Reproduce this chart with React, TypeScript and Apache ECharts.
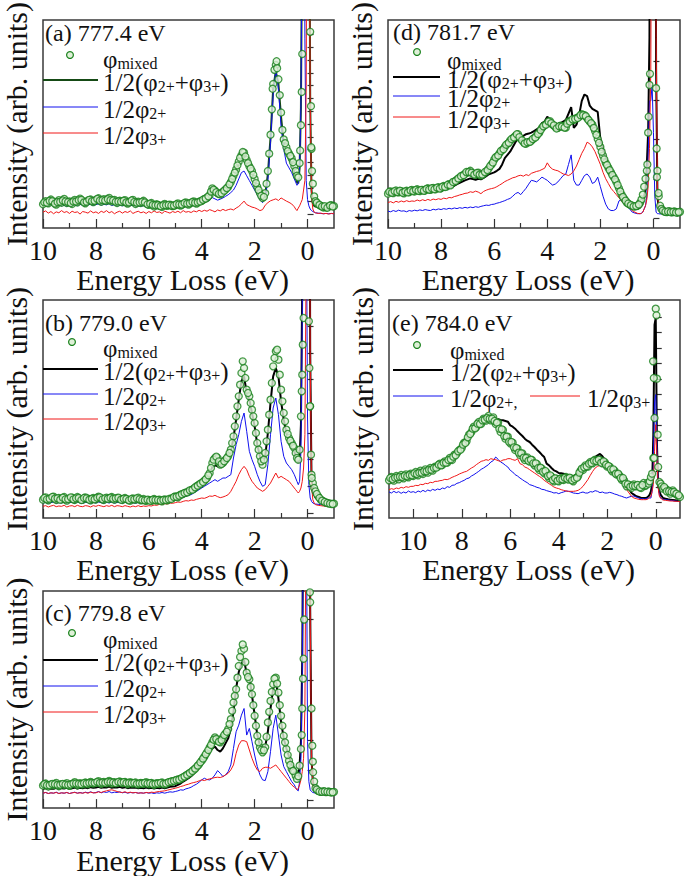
import React, { useEffect, useRef } from 'react';
import * as echarts from 'echarts';

const FONT = 'Liberation Serif';

// Energy-loss sampling (eV) shared by panels (a)-(d)
const ENERGY = [
  10, 9.9, 9.8, 9.7, 9.6, 9.5, 9.4, 9.3, 9.2, 9.1,
  9, 8.9, 8.8, 8.7, 8.6, 8.5, 8.4, 8.3, 8.2, 8.1,
  8, 7.9, 7.8, 7.7, 7.6, 7.5, 7.4, 7.3, 7.2, 7.1,
  7, 6.9, 6.8, 6.7, 6.6, 6.5, 6.4, 6.3, 6.2, 6.1,
  6, 5.9, 5.8, 5.7, 5.6, 5.5, 5.4, 5.3, 5.2, 5.1,
  5, 4.9, 4.8, 4.7, 4.6, 4.5, 4.4, 4.3, 4.2, 4.1,
  4, 3.9, 3.8, 3.7, 3.6, 3.5, 3.4, 3.3, 3.2, 3.1,
  3, 2.9, 2.8, 2.7, 2.6, 2.5, 2.4, 2.3, 2.2, 2.1,
  2, 1.9, 1.8, 1.7, 1.6, 1.5, 1.4, 1.3, 1.2, 1.1,
  1, 0.9, 0.8, 0.7, 0.6, 0.5,
  0.45, 0.4, 0.35, 0.3, 0.25, 0.2, 0.15, 0.1, 0.05, 0, -0.05, -0.1, -0.15, -0.2, -0.25, -0.3,
  -0.4, -0.5, -0.6, -0.7, -0.8, -0.9, -1,
];
// in-between samples of the measured (circle) spectra
const ENERGY_MID = [
  9.95, 9.85, 9.75, 9.65, 9.55, 9.45, 9.35, 9.25, 9.15, 9.05,
  8.95, 8.85, 8.75, 8.65, 8.55, 8.45, 8.35, 8.25, 8.15, 8.05,
  7.95, 7.85, 7.75, 7.65, 7.55, 7.45, 7.35, 7.25, 7.15, 7.05,
  6.95, 6.85, 6.75, 6.65, 6.55, 6.45, 6.35, 6.25, 6.15, 6.05,
  5.95, 5.85, 5.75, 5.65, 5.55, 5.45, 5.35, 5.25, 5.15, 5.05,
  4.95, 4.85, 4.75, 4.65, 4.55, 4.45, 4.35, 4.25, 4.15, 4.05,
  3.95, 3.85, 3.75, 3.65, 3.55, 3.45, 3.35, 3.25, 3.15, 3.05,
  2.95, 2.85, 2.75, 2.65, 2.55, 2.45, 2.35, 2.25, 2.15, 2.05,
  1.95, 1.85, 1.75, 1.65, 1.55, 1.45, 1.35, 1.25, 1.15, 1.05,
  0.95, 0.85, 0.75, 0.65, 0.55,
];
// extra high-energy samples for panel (e)
const ENERGY_HIGH = [11, 10.9, 10.8, 10.7, 10.6, 10.5, 10.4, 10.3, 10.2, 10.1];
const ENERGY_HIGH_MID = [10.95, 10.85, 10.75, 10.65, 10.55, 10.45, 10.35, 10.25, 10.15, 10.05];
const ENERGY_E = [...ENERGY_HIGH, ...ENERGY];
const ENERGY_E_MID = [...ENERGY_HIGH_MID, ...ENERGY_MID];

const X_MAJOR = [0, 2, 4, 6, 8, 10];
const X_MINOR = [1, 3, 5, 7, 9];

// ---------- (a) 777.4 eV ----------
const A_MIXED = [
  7.5, 8.5, 7.8, 9, 8.2, 7.4, 8.8, 8, 9.2, 7.9,
  8.4, 7.6, 8.9, 8.1, 9.3, 8.5, 7.8, 8.7, 9, 8.2,
  8.8, 9.4, 8.3, 9.1, 8.6, 9.5, 8.4, 8.9, 7.9, 8.6,
  8.2, 8.8, 7.7, 8.4, 8.9, 7.6, 8.3, 7.9, 8.6, 7.8,
  7.3, 7.9, 6.8, 7.5, 7.1, 6.7, 7.6, 7, 7.4, 6.9,
  7.2, 7.8, 7.1, 7.6, 8.1, 7.4, 8, 8.4, 7.7, 8.3,
  8.6, 9.2, 9.6, 10.4, 12.5, 11.8, 11, 10.6, 11.4, 12.2,
  13, 14.5, 16.5, 18.5, 21, 23, 23.8, 21.5, 19.5, 18,
  15.5, 13, 11, 9.5, 11, 18, 29.5, 45.5, 51.5, 47,
  36.5, 28, 25.5, 23.5, 22, 19.5,
  18, 16.5, 16, 20.5, 32.5, 55, 120, 200, 250, 200, 120, 62, 25, 14, 10, 8.5,
  7.5, 7, 6.5, 6.5, 6.8, 7.2, 6.9,
];
const A_MIXED_MID = [
  8.1, 8, 8.6, 8.5, 7.7, 8.2, 8.3, 8.7, 8.4, 8.2,
  7.9, 8.4, 8.4, 8.8, 8.9, 8.1, 8.3, 8.9, 8.5, 8.6,
  9.2, 8.7, 8.8, 8.7, 9.1, 8.8, 8.7, 8.3, 8.4, 8.3,
  8.6, 8.1, 8.1, 8.7, 8.2, 8, 8.1, 8.3, 8.1, 7.5,
  7.7, 7.3, 7.2, 7.2, 6.9, 7.2, 7.2, 7.3, 7.1, 7.1,
  7.5, 7.4, 7.4, 7.9, 7.7, 7.8, 8.2, 8, 8.1, 8.4,
  8.9, 9.3, 10, 11.5, 12.1, 11.3, 10.8, 11, 11.8, 12.6,
  13.8, 15.5, 17.5, 19.8, 22.2, 24, 22.6, 20.5, 18.8, 16.8,
  14.2, 12, 10.2, 9.8, 14, 23.5, 37.5, 50, 50.5, 42,
  31, 26.8, 24.3, 22.8, 20.8,
];
const A_MIXED_EXTRA = [
  [1.32, 44], [1.17, 52.7], [0.28, 24.5], [0.22, 43], [-0.13, 38.5], [-0.14, 25.5], [-0.17, 18],
  [-0.35, 8], [-0.45, 7.3], [-0.55, 6.8], [-0.65, 6.9], [-0.75, 6.4], [-0.85, 7.1], [-0.95, 6.8],
];
const A_SUM = [
  7.8, 8.1, 7.6, 8.3, 7.9, 8, 8.4, 7.7, 8.2, 7.9,
  8.1, 8, 8.4, 7.9, 8.5, 8.2, 8, 8.3, 8.6, 8.1,
  8.4, 8.7, 8.2, 8.6, 8.3, 8.8, 8.2, 8.5, 8, 8.3,
  8.1, 8.4, 7.8, 8.2, 8.3, 7.7, 8, 7.8, 8.1, 7.6,
  7.4, 7.6, 7.1, 7.3, 7.2, 7, 7.4, 7.1, 7.3, 7.1,
  7.3, 7.5, 7.3, 7.6, 7.8, 7.6, 7.9, 8.2, 8, 8.3,
  8.5, 8.9, 9.3, 9.9, 11.5, 11.2, 10.6, 10.4, 11, 11.8,
  12.6, 14, 16, 18, 20.5, 22.5, 23.2, 21, 19, 17.5,
  15, 12.5, 10.5, 9.2, 10.5, 17, 28.5, 44, 49.5, 45.5,
  35, 27, 24, 22, 20.5, 17.5,
  16, 14.5, 14.2, 19, 38, 100, 200, 150, 70, 200, 150, 40, 12, 8, 7, 6.8,
  6.6, 6.4, 6.3, 6.4, 6.5, 6.3, 6.4,
];
const A_HALF2 = [
  7, 7.3, 6.8, 7.4, 7.1, 6.9, 7.5, 7, 7.2, 6.8,
  7.2, 6.9, 7.4, 7, 7.5, 7.2, 6.9, 7.3, 7.5, 7.1,
  7.4, 7.6, 7.2, 7.5, 7.3, 7.7, 7.1, 7.4, 6.9, 7.2,
  7, 7.3, 6.8, 7.1, 7.2, 6.7, 7, 6.8, 7.1, 6.6,
  6.5, 6.8, 6.3, 6.6, 6.4, 6.2, 6.6, 6.3, 6.5, 6.3,
  6.6, 6.9, 6.6, 7, 7.2, 7, 7.4, 7.7, 7.5, 8,
  8.3, 8.6, 8.4, 8.8, 9.6, 9.2, 8.8, 9.1, 9.5, 10,
  10.5, 11.2, 12, 13.5, 15.5, 17.5, 18, 16.5, 15, 13.5,
  12, 10.5, 9, 8, 9.5, 15, 27, 42, 50, 44,
  32, 25, 20.5, 19, 17.5, 15.5,
  14.5, 13.5, 14, 19, 38, 100, 200, 60, 15, 9, 7, 6, 5.5, 5.2, 5, 4.8,
  4.7, 4.6, 4.5, 4.6, 4.5, 4.6, 4.5,
];
const A_HALF3 = [
  5, 5.4, 4.7, 5.2, 4.5, 5.1, 4.8, 5.5, 4.9, 5.2,
  4.6, 5.3, 4.9, 5.1, 4.4, 5.2, 5, 4.7, 5.4, 4.8,
  5.1, 4.6, 5.3, 4.9, 5.5, 4.8, 5.2, 4.5, 5, 5.3,
  4.7, 5.2, 4.9, 5.4, 4.6, 5, 5.3, 4.8, 5.1, 4.6,
  5.2, 4.8, 5.4, 4.9, 5.1, 4.6, 5.3, 5, 4.7, 5.2,
  4.9, 5.3, 4.8, 5.5, 5, 5.2, 4.9, 5.4, 5.1, 5.6,
  5.2, 5.6, 5.3, 5.8, 5.5, 5.1, 5.7, 5.4, 5.9, 5.5,
  5.8, 6, 5.7, 6.3, 6.8, 7.6, 8.5, 7.4, 7, 6.6,
  6.4, 6, 5.5, 5.8, 7.2, 8, 8.6, 8.9, 9.2, 8.7,
  9.5, 9, 8.5, 8.1, 7.6, 6.7,
  6, 5.5, 6.3, 7, 8, 9, 12, 15, 45, 200, 150, 40, 10, 6, 5, 4.8,
  4.6, 4.7, 4.5, 4.6, 4.4, 4.6, 4.5,
];
const A_YTICKS = [4.5, 8.55, 12.6, 16.65, 20.7, 24.75, 28.8, 32.85, 36.9, 40.95, 45, 49.05, 53.1, 57.15, 61.2];

// ---------- (b) 779.0 eV ----------
const B_MIXED = [
  5.5, 6.2, 5.3, 5.9, 6.4, 5.4, 6, 5.6, 6.3, 5.2,
  5.8, 6.1, 5.4, 6.3, 5.7, 5.5, 6.2, 5.8, 5.3, 6,
  5.6, 6.4, 5.9, 5.4, 6.1, 5.7, 6.3, 5.5, 6, 5.8,
  5.4, 6, 5.6, 5.2, 5.9, 5.5, 6.1, 5.3, 5.7, 5.1,
  5.4, 5.1, 5.7, 5.2, 5.5, 5, 5.6, 5.3, 5.8, 6,
  6.5, 6.2, 7, 7.3, 7.6, 8, 8.4, 8.8, 9.5, 10,
  10.5, 11.2, 12, 13.5, 16.5, 18, 18, 16, 16.5, 17.5,
  18.5, 20.5, 24.5, 30.5, 36.5, 43.5, 45, 38.5, 36.5, 32.5,
  28.5, 22.5, 18.5, 16, 19.5, 26.5, 35.5, 45.5, 50, 47.5,
  38.5, 31.5, 26.5, 24, 22.5, 21,
  19.5, 18, 17.5, 20.5, 30.5, 43, 60, 150, 200, 150, 59, 33.5, 13, 10.5, 9, 8,
  6.5, 5.5, 5, 4.6, 4.4, 4.2, 4.3,
];
const B_MIXED_MID = [
  6, 5.6, 5.8, 6.3, 5.8, 5.9, 5.5, 6.1, 5.6, 5.7,
  6.2, 5.6, 5.9, 6, 5.4, 6, 5.9, 5.5, 5.8, 5.6,
  6.1, 6.2, 5.6, 5.9, 5.8, 6.1, 5.8, 5.9, 6.1, 5.5,
  5.8, 5.7, 5.3, 5.7, 5.6, 5.9, 5.6, 5.4, 5.3, 5.5,
  5.2, 5.5, 5.4, 5.4, 5.2, 5.4, 5.4, 5.6, 5.7, 6.3,
  6.4, 6.7, 7.1, 7.5, 7.7, 8.3, 8.5, 9.2, 9.7, 10.3,
  10.8, 11.6, 12.8, 15, 17.5, 18.4, 17, 16.2, 17, 18,
  19.5, 22.5, 27.5, 33.5, 40, 47, 42, 37.5, 34.5, 30.5,
  25.5, 20.5, 17, 17.5, 23, 31, 40.5, 48, 50.5, 43,
  35, 29, 25.2, 23.2, 21.7,
];
const B_MIXED_EXTRA = [
  [0.22, 38], [0.18, 52], [-0.07, 45], [-0.09, 33.5], [-0.13, 19], [-0.16, 12],
  [-0.35, 7.2], [-0.45, 6], [-0.55, 5.2], [-0.65, 4.8], [-0.75, 4.5], [-0.85, 4.3], [-0.95, 4.2],
];
const B_SUM = [
  5.2, 5.5, 5.1, 5.4, 5.6, 5.2, 5.5, 5.3, 5.6, 5.1,
  5.4, 5.5, 5.2, 5.6, 5.3, 5.2, 5.5, 5.4, 5.1, 5.5,
  5.3, 5.6, 5.4, 5.2, 5.5, 5.3, 5.6, 5.2, 5.5, 5.4,
  5.2, 5.5, 5.3, 5.1, 5.4, 5.2, 5.5, 5.1, 5.3, 5,
  5.2, 5, 5.4, 5.1, 5.3, 5, 5.4, 5.2, 5.5, 5.8,
  6.2, 6, 6.6, 7, 7.3, 7.7, 8.1, 8.6, 9.2, 9.8,
  10.4, 11, 12, 13.2, 15.3, 15.8, 15.5, 15.3, 16, 17,
  18, 20, 24, 29.5, 35.5, 41, 42.5, 37.5, 35.5, 31.5,
  27.5, 22, 18.5, 16, 18.5, 25.5, 34.5, 42.5, 45, 42.5,
  35, 29.5, 25.5, 23, 21.5, 20,
  18.5, 17.5, 16.5, 18, 28, 70, 160, 200, 130, 200, 200, 50, 12, 8, 7, 6.2,
  5.5, 5, 4.8, 4.6, 4.5, 4.4, 4.3,
];
const B_HALF2 = [
  4.5, 4.7, 4.3, 4.6, 4.8, 4.4, 4.6, 4.5, 4.8, 4.3,
  4.6, 4.7, 4.4, 4.8, 4.5, 4.4, 4.7, 4.6, 4.3, 4.7,
  4.5, 4.8, 4.6, 4.4, 4.7, 4.5, 4.8, 4.4, 4.7, 4.6,
  4.4, 4.7, 4.5, 4.3, 4.6, 4.4, 4.7, 4.3, 4.5, 4.3,
  4.5, 4.3, 4.7, 4.4, 4.6, 4.4, 4.8, 4.6, 5, 5.2,
  5.5, 5.4, 5.9, 6.2, 6.5, 6.8, 7, 7.5, 8, 8.5,
  9, 9.5, 10, 10.5, 11, 11.5, 11, 11.5, 12, 12,
  12.5, 13, 18, 22, 25, 29, 31.5, 26, 20, 17.5,
  15.5, 13, 11, 9.5, 10, 16, 25, 33, 36, 31,
  23, 18.5, 16.5, 15.5, 14.5, 13,
  12, 11, 10, 11, 20, 60, 150, 200, 100, 30, 10, 6, 5, 4.5, 4.3, 4.2,
  4.1, 4, 4.1, 3.9, 4, 3.9, 4,
];
const B_HALF3 = [
  3.5, 3.7, 3.3, 3.6, 3.8, 3.4, 3.6, 3.5, 3.8, 3.3,
  3.6, 3.7, 3.4, 3.8, 3.5, 3.4, 3.7, 3.6, 3.3, 3.7,
  3.5, 3.8, 3.6, 3.4, 3.7, 3.5, 3.8, 3.4, 3.7, 3.6,
  3.4, 3.7, 3.5, 3.3, 3.6, 3.4, 3.7, 3.4, 3.6, 3.5,
  3.7, 3.6, 3.9, 3.8, 4.1, 4, 4.3, 4.2, 4.5, 4.4,
  4.6, 4.8, 4.7, 5, 5.2, 5.1, 5.4, 5.3, 5.6, 5.8,
  6, 5.9, 6.2, 6.6, 6.5, 6.8, 6.4, 6.1, 6.3, 6.6,
  7, 8, 9.5, 11, 13, 14.5, 15.5, 14.5, 12.5, 11,
  10, 9, 8.5, 8, 8.5, 9.5, 10.5, 12, 13.5, 12,
  12.5, 12, 11.5, 11, 10, 9,
  8.5, 8, 7.5, 8, 9, 11, 15, 25, 80, 200, 200, 50, 10, 5.5, 4.5, 4,
  3.8, 3.7, 3.6, 3.5, 3.6, 3.5, 3.4,
];
const B_YTICKS = [1.5, 9.5, 17.5, 25.5, 33.5, 41.5, 49.5, 57.5];

// ---------- (c) 779.8 eV ----------
const C_MIXED = [
  6.8, 7.4, 6.5, 7.1, 6.9, 7.6, 6.6, 7.2, 7, 7.5,
  6.7, 7.3, 7.8, 6.9, 7.5, 7.1, 7.7, 7.2, 7.9, 7.4,
  7.6, 8.1, 7.3, 7.9, 7.5, 8.2, 7.4, 7.8, 7.6, 8,
  7.5, 7.9, 7.2, 7.8, 7.4, 7.7, 7.1, 7.6, 7.3, 7.8,
  7.2, 7.6, 7, 7.5, 7.3, 7.7, 7.1, 7.6, 7.9, 8.1,
  8.3, 8.6, 8.8, 9.3, 9.8, 10.3, 10.8, 11.5, 12.3, 13.2,
  14.3, 15.5, 16.8, 18.3, 19.8, 21.3, 20.3, 19.8, 21.3, 22.5,
  23.8, 26.8, 31.8, 35.8, 42.8, 47.3, 48, 40.8, 38.8, 34.3,
  27.8, 21.8, 18.3, 16.8, 18.3, 25.8, 32.3, 37.3, 39.3, 34.8,
  27.8, 21.8, 17.8, 14.3, 11.8, 10.8,
  9.8, 8.8, 9.6, 12.8, 17.8, 30, 45, 80, 120, 150, 100, 62, 30, 14, 8, 6,
  5.2, 4.9, 5.1, 4.8, 5, 4.7, 4.9,
];
const C_MIXED_MID = [
  7.2, 6.9, 6.9, 7.3, 7.2, 7, 7, 7.3, 7.1, 7,
  7.1, 7.4, 7.4, 7.3, 7.2, 7.5, 7.4, 7.6, 7.6, 7.6,
  7.9, 7.6, 7.7, 7.6, 7.9, 7.8, 7.7, 7.5, 7.9, 7.7,
  7.8, 7.5, 7.6, 7.5, 7.6, 7.3, 7.4, 7.4, 7.6, 7.4,
  7.5, 7.2, 7.3, 7.4, 7.6, 7.3, 7.4, 7.8, 8, 8.2,
  8.5, 8.6, 9.1, 9.5, 10, 10.6, 11.2, 11.9, 12.8, 13.8,
  14.9, 16.2, 17.5, 19, 20.6, 20.8, 20, 20.5, 22, 23,
  25.3, 29.3, 33.8, 39.3, 45.5, 49.3, 44, 39.5, 36.5, 31,
  24.8, 19.8, 17.5, 17.4, 21.5, 29, 35, 39, 37.5, 31,
  24.8, 19.8, 16, 13, 11.2,
];
const C_MIXED_EXTRA = [
  [0.22, 22], [0.17, 39], [0.13, 56.8], [-0.09, 65], [-0.18, 18.8], [-0.21, 10.8],
  [-0.35, 5.6], [-0.45, 5], [-0.55, 4.9], [-0.65, 5], [-0.75, 4.9], [-0.85, 4.8], [-0.95, 4.8],
];
const C_SUM = [
  5.8, 6, 5.7, 5.9, 5.8, 6.1, 5.7, 6, 5.9, 6.1,
  5.8, 6, 6.2, 5.9, 6.1, 6, 6.2, 6, 6.3, 6.1,
  6.2, 6.4, 6.1, 6.3, 6.2, 6.5, 6.1, 6.3, 6.2, 6.4,
  6.1, 6.3, 6, 6.2, 6.1, 6.2, 6, 6.1, 6, 6.2,
  6, 6.1, 5.9, 6.1, 6, 6.2, 6, 6.2, 6.4, 6.5,
  6.6, 7, 7.4, 8, 8.5, 9, 9.6, 10.4, 11.4, 12.4,
  13.5, 14.5, 15.5, 17, 18, 18.5, 17.5, 17, 18, 19.5,
  21, 24, 29, 36, 41, 43.5, 44.5, 40.5, 39.5, 34,
  28, 22, 19, 18, 18.5, 23, 30, 36, 38.5, 33,
  26, 21, 18, 15.5, 13, 11.5,
  10, 9, 9.5, 13, 20, 45, 110, 220, 200, 260, 200, 60, 15, 8, 6.5, 6,
  5.8, 5.6, 5.7, 5.5, 5.6, 5.4, 5.5,
];
const C_HALF2 = [
  4.5, 4.7, 4.4, 4.6, 4.5, 4.8, 4.4, 4.6, 4.5, 4.7,
  4.4, 4.6, 4.8, 4.5, 4.7, 4.5, 4.8, 4.6, 4.9, 4.6,
  4.7, 5, 4.6, 4.9, 4.7, 5, 4.6, 4.8, 4.7, 4.9,
  4.6, 4.8, 4.5, 4.7, 4.6, 4.7, 4.5, 4.6, 4.5, 4.7,
  4.5, 4.6, 4.4, 4.6, 4.5, 4.7, 4.5, 4.7, 4.9, 4.8,
  5, 5.2, 5.5, 5.4, 5.8, 6, 6.3, 6.8, 7.2, 7.8,
  8.5, 9, 8.6, 8.5, 9, 10, 11.3, 10.5, 9.5, 10,
  11, 13, 18, 23, 25, 28, 30, 22, 24, 20,
  16, 12.5, 10, 8.5, 8.3, 11, 17, 24, 28, 22,
  16, 12.5, 11, 9.5, 8, 7,
  6.2, 5.5, 5.2, 8, 15, 40, 100, 200, 100, 20, 8, 5.5, 5, 4.7, 4.6, 4.5,
  4.4, 4.5, 4.3, 4.4, 4.5, 4.3, 4.4,
];
const C_HALF3 = [
  4.5, 4.7, 4.4, 4.6, 4.5, 4.7, 4.4, 4.6, 4.5, 4.7,
  4.4, 4.6, 4.7, 4.5, 4.6, 4.5, 4.7, 4.5, 4.8, 4.6,
  4.6, 4.9, 4.7, 5, 5.2, 5.4, 5.5, 5.3, 5, 4.8,
  4.7, 4.9, 4.6, 4.8, 4.6, 4.7, 4.5, 4.6, 4.5, 4.7,
  4.6, 4.8, 4.7, 4.9, 5, 5.1, 5.2, 5.4, 5.6, 5.8,
  6, 6.2, 6.5, 6.7, 7, 7.2, 7.5, 7.7, 7.9, 8.2,
  8.5, 8.3, 8.6, 8.8, 9, 9.2, 9.3, 9.2, 9.5, 10,
  10.5, 11.5, 13, 16.5, 19, 20.3, 20.3, 20, 17.5, 15,
  13, 11.5, 11, 12, 12.3, 12.3, 12, 12.5, 13, 12,
  11, 10, 9, 8, 7, 6.3,
  6, 5.5, 6, 7, 8.5, 11, 15, 30, 100, 250, 200, 60, 15, 7, 5.5, 5,
  4.7, 4.6, 4.5, 4.6, 4.4, 4.5, 4.4,
];
const C_YTICKS = [2.3, 11.4, 20.5, 29.5, 38.6, 47.7, 56.8];

// ---------- (d) 781.7 eV ----------
const D_MIXED = [
  10.8, 11.5, 11, 11.8, 11.2, 11.6, 10.9, 11.7, 11.3, 12,
  11.5, 12.2, 11.6, 12, 11.8, 12.5, 12, 12.6, 12.2, 12.8,
  12.5, 13.2, 13, 13.8, 14, 14.6, 15.2, 15.8, 16.5, 17,
  17.5, 18, 17.2, 16.8, 17.4, 16.5, 17, 17.8, 18.8, 20,
  21.5, 22.5, 23.5, 24.5, 25.5, 26.5, 27.5, 28.2, 29, 29.5,
  28, 27, 26.5, 27, 27.5, 28.2, 29, 30, 31.5, 32.3,
  33, 33.6, 32.5, 31.8, 31.5, 32.2, 32, 31.6, 33.5, 33.8,
  34, 34.6, 35, 35.8, 35.5, 34.5, 33.5, 32.5, 30.5, 28,
  25.5, 22.8, 20.5, 19, 17.5, 16, 14.5, 12.5, 10.5, 9.2,
  8, 7.4, 7, 6.8, 7, 8,
  9, 10.5, 13, 15.5, 18, 30, 45, 80, 120, 120, 80, 44, 18, 10, 7, 6,
  5.2, 5, 5.3, 4.9, 5.2, 4.8, 5.1,
];
const D_MIXED_MID = [
  11.4, 11.1, 11.6, 11.3, 11.7, 11.1, 11.5, 11.2, 11.8, 11.6,
  12, 11.7, 12, 11.7, 12.3, 12.1, 12.5, 12.2, 12.7, 12.4,
  13, 12.9, 13.6, 13.4, 14.5, 14.8, 15.6, 16.3, 16.6, 17.6,
  17.6, 17.4, 16.8, 17.3, 16.8, 16.8, 17.6, 18.2, 19.5, 20.6,
  22.2, 22.8, 24.2, 24.8, 26.2, 26.8, 28, 28.5, 29.5, 28.6,
  27.6, 26.6, 27, 27.1, 28, 28.5, 29.6, 30.8, 32, 32.5,
  33.5, 33, 32.3, 31.3, 32, 31.9, 31.6, 32.8, 33.5, 34.2,
  34.3, 34.6, 35.5, 35.5, 35.2, 34, 33, 31.5, 29.3, 26.8,
  24, 21.6, 19.8, 18.2, 16.7, 15.3, 13.5, 11.5, 9.8, 8.6,
  7.7, 7.2, 6.8, 6.9, 7.4,
];
const D_MIXED_EXTRA = [
  [0.23, 20], [0.18, 35], [0.13, 48.5], [-0.12, 25], [-0.13, 16], [-0.19, 11],
  [-0.35, 5.5], [-0.45, 5.1], [-0.55, 5.2], [-0.65, 5], [-0.75, 5.1], [-0.85, 4.9], [-0.95, 5],
];
const D_SUM = [
  10.3, 10.6, 10.4, 10.8, 10.5, 10.9, 10.6, 11, 10.8, 11.2,
  11, 11.3, 11.1, 11.4, 11.2, 11.6, 11.4, 11.7, 11.5, 11.9,
  11.7, 12, 12.3, 12.6, 13, 13.3, 13.8, 14.2, 14.6, 15,
  15.3, 15.6, 15.4, 15.2, 15.5, 15.3, 15.8, 16.3, 16.9, 17.2,
  17.5, 18, 18.6, 20, 22, 23, 24, 25.5, 27, 28.5,
  28.5, 29, 29.5, 29.7, 30, 30.5, 31, 31.5, 33, 33.5,
  35, 34, 33.5, 33, 32.5, 33, 33.5, 34, 36, 38,
  31.5, 32.5, 35.5, 40, 42, 41.5, 38.5, 37.5, 37, 36.5,
  28, 25, 22, 20, 18, 16, 14.5, 12.5, 10.5, 9,
  8, 7, 6.5, 6.2, 6, 6.5,
  7.2, 8, 10, 12, 20, 30, 60, 200, 250, 250, 200, 50, 10, 6, 5.2, 5,
  4.8, 4.9, 4.7, 4.8, 4.6, 4.8, 4.7,
];
const D_HALF2 = [
  5.3, 5.1, 5.5, 5.2, 5.6, 5.3, 5.4, 5.1, 5.5, 5.3,
  5.6, 5.4, 5.7, 5.5, 5.8, 5.6, 5.5, 5.9, 5.7, 6,
  5.8, 6.1, 5.9, 6.2, 6, 6.3, 6.1, 6.4, 6.2, 6.5,
  6.3, 6.6, 6.4, 6.7, 6.5, 6.8, 7, 7.2, 7.1, 7.4,
  7.5, 7.8, 8, 8.3, 8.6, 9, 9.3, 10, 10.8, 11.2,
  10.5, 11.5, 12.5, 13.8, 15, 14.8, 14.5, 15.2, 16, 15.5,
  15, 14.2, 13.5, 13.8, 14.5, 15.5, 16.5, 17, 20, 23,
  15, 13.5, 13.5, 15, 16.5, 17, 16, 14, 14.5, 16,
  13, 10, 7.5, 6, 5.5, 5.5, 6, 8.5, 9, 8,
  7, 6, 5, 4.7, 4.5, 4.5,
  4.7, 5, 6, 7, 10, 22, 40, 40, 45, 30, 10, 5, 4.5, 4.5, 4.4, 4.5,
  4.4, 4.5, 4.3, 4.4, 4.2, 4.4, 4.3,
];
const D_HALF3 = [
  8, 8.3, 7.9, 8.4, 8.1, 8.5, 8.2, 8.6, 8.3, 8.5,
  8.4, 8.8, 8.5, 8.9, 8.6, 9, 8.7, 9.1, 8.9, 9.2,
  9, 9.4, 9.2, 9.6, 9.5, 9.9, 10.1, 10.4, 10.6, 10.9,
  11, 11.4, 11.2, 11.6, 11.3, 10.8, 11.5, 11.9, 12.2, 12.4,
  12.6, 13, 13.5, 14, 14.6, 15, 15.4, 15.8, 16, 16.4,
  16.6, 16.3, 16.8, 16.5, 17.2, 17.5, 17.8, 18, 18.4, 18.8,
  20.5, 19.2, 18.5, 18.2, 18, 17.5, 17, 16.8, 16.5, 17,
  18, 19.5, 21.5, 23.5, 25, 27, 26.5, 25.5, 24, 22,
  20, 17.5, 15.5, 14, 12.5, 11.5, 10.5, 9.5, 8.5, 7.5,
  6.8, 6.2, 5.5, 5, 4.6, 4.5,
  4.6, 5, 6, 7, 9, 13, 25, 50, 150, 250, 200, 60, 12, 6, 5, 4.8,
  4.7, 4.8, 4.6, 4.7, 4.5, 4.7, 4.6,
];
const D_YTICKS = [3, 15.4, 27.8, 40.2, 52.6];

// ---------- (e) 784.0 eV ----------
const E_MIXED = [
  11.3, 12.3, 11.2, 12.6, 11.6, 12.9, 11.9, 13.1, 12.2, 13.3,
  12.6, 13.8, 12.8, 14.2, 13.2, 14.6, 13.6, 15, 14.2, 15.4,
  15.4, 16.3, 15.9, 17, 16.6, 18, 17.4, 19, 19.4, 20.4,
  21, 22.6, 23, 25, 25.8, 27.4, 27.2, 28.8, 28.2, 29.8,
  29.2, 30.6, 29.3, 30.2, 28.2, 28.6, 25.8, 26.4, 23.8, 24.4,
  22.4, 22.6, 20.4, 20.8, 18.9, 19.4, 17.4, 18.2, 16.9, 17.4,
  15.8, 16.2, 14.4, 14.8, 13.4, 13.6, 12, 12.4, 11, 11.8,
  11, 12, 11.4, 12.3, 11.5, 11.9, 11, 12, 12.5, 14.2,
  14.4, 15.8, 15.4, 16.8, 16.4, 17.5, 17, 17.4, 16.4, 16.7,
  15.4, 15.4, 14, 14.2, 13, 12.8, 11.4, 11.2, 9.5, 9.9,
  9, 10.1, 9.5, 9.8, 9, 10.5,
  9.6, 9.8, 10.5, 10.3, 11, 12.3, 13.3, 18, 30, 62.8, 41.8, 15.3, 10.8, 10.3, 9.5, 8.8,
  8.8, 8.3, 7.3, 8.3, 7.3, 6.8, 6.3,
];
const E_MIXED_MID = [
  12, 11.6, 12.1, 12.2, 12.4, 12.3, 12.7, 12.5, 12.9, 12.8,
  13.4, 13.2, 13.6, 13.6, 14, 14, 14.5, 14.5, 15, 15.1,
  16, 15.8, 16.6, 16.6, 17.4, 17.6, 18.4, 18.8, 20, 20.5,
  22, 22.5, 24.2, 25.2, 26.8, 26.9, 28.3, 28.2, 29.3, 29.5,
  30, 29.8, 29.8, 29.1, 28.6, 26.8, 26.6, 24.6, 24.4, 22.9,
  22.8, 21.2, 21, 19.6, 19.4, 18.1, 18, 17.2, 17.5, 16.4,
  16.4, 15, 15.1, 13.9, 14.1, 12.6, 12.8, 11.4, 11.9, 11.2,
  11.7, 11.6, 12.1, 11.8, 12.1, 11.3, 11.7, 12.1, 13.6, 14.8,
  15.2, 15.5, 16.3, 16.5, 17.2, 17.1, 17.5, 16.6, 17, 16,
  15.6, 14.6, 14.6, 13.3, 13.3, 12, 12, 10.3, 10.1, 9.4,
  9.7, 9.6, 9.9, 9.2, 9.9,
];
const E_MIXED_EXTRA = [
  [0.11, 47], [0.08, 42], [0.07, 18], [-0.03, 60.8], [-0.08, 25],
  [-0.35, 9.3], [-0.45, 8], [-0.55, 8], [-0.65, 7.8], [-0.75, 7.8], [-0.85, 7.3], [-0.95, 6.8],
];
const E_SUM = [
  11, 11.3, 11.1, 11.5, 11.3, 11.7, 11.5, 11.9, 11.7, 12.1,
  12, 12.4, 12.3, 12.8, 12.7, 13.2, 13.2, 13.7, 13.8, 14.3,
  14.8, 15, 15.6, 15.8, 16.5, 17, 17.3, 18, 18.8, 19.5,
  20.5, 21.3, 22.5, 23.5, 25, 25.8, 26.8, 27.5, 28, 28.5,
  28.8, 29, 29.2, 29.5, 29.3, 29.6, 29.4, 29.3, 29.1, 28.9,
  27.8, 27.4, 26.8, 26, 25.3, 24.6, 23.8, 23.2, 22.8, 22,
  21.3, 20.5, 19.8, 19, 18.3, 16.3, 15.8, 15, 14.3, 14,
  13.5, 13.4, 13.3, 13, 12.8, 12.4, 12, 12.2, 13, 13.8,
  14.5, 15.2, 16, 16.8, 17.5, 18.3, 18.8, 19.2, 18.5, 17.5,
  16.5, 15.8, 15, 14.5, 14, 13, 12, 11, 10, 8.8,
  7.5, 7, 6.5, 6.3, 6, 6,
  6, 6, 6.2, 6.5, 7, 8, 10, 25, 58, 60, 22, 10, 8, 7, 6.5, 6,
  5.8, 5.6, 5.5, 5.4, 5.3, 5.2, 5.1,
];
const E_HALF2 = [
  7.8, 7.5, 8, 7.6, 7.9, 7.4, 7.8, 7.5, 8.1, 7.7,
  7.9, 7.6, 8.1, 7.8, 8.3, 7.9, 8.4, 8.1, 8.6, 8.3,
  8.7, 8.5, 9, 8.8, 9.4, 9.2, 9.8, 9.9, 10.4, 10.6,
  11, 11.3, 11.8, 12, 12.6, 13, 13.5, 14, 14.6, 15,
  15.5, 16, 16.8, 17.2, 18.3, 17.6, 16.8, 16.4, 15.8, 15.3,
  14.3, 13.8, 13, 12.6, 12, 11.5, 11, 10.6, 10, 9.8,
  9.5, 9.2, 9, 8.6, 8.5, 8.2, 8, 7.8, 7.5, 7.6,
  7.3, 7.6, 7.8, 8.1, 8, 7.8, 7.5, 7.4, 7.3, 7.6,
  7.8, 7.5, 7.5, 7.9, 7.8, 8.2, 8, 7.6, 7.8, 7.5,
  7.5, 7.7, 7.5, 7.2, 7, 6.7, 6.5, 6.2, 6, 6.3,
  6.5, 6.6, 6.3, 6, 5.8, 5.8,
  5.7, 5.8, 5.9, 6, 6, 6, 8, 15, 35, 37, 20, 10, 7, 6, 5.8, 5.6,
  5.5, 5.4, 5.3, 5.2, 5.1, 5, 5,
];
const E_HALF3 = [
  8.5, 8.8, 8.6, 9, 8.8, 9.2, 9, 9.4, 9.2, 9.5,
  9.5, 9.8, 9.7, 10.1, 10, 10.4, 10.3, 10.7, 10.6, 11,
  11, 11.2, 11.3, 11.6, 11.5, 11.8, 12.2, 12.5, 12.8, 13.2,
  13.5, 13.8, 14, 14.5, 15, 15.4, 16, 16.5, 17, 17.2,
  17.5, 17.3, 17.8, 17.6, 17.5, 17.2, 17, 17.4, 17.5, 17.8,
  17.8, 17.5, 17.3, 17.8, 16.3, 16, 15.3, 15, 14.5, 14,
  13.5, 13, 12.5, 12, 11.3, 10.8, 10.3, 9.8, 9.3, 9,
  8.8, 8.5, 8.3, 8.1, 8, 8, 8, 8.1, 8.3, 8.8,
  9.5, 10.5, 11.5, 12.8, 14, 15, 15.5, 15.8, 15.8, 15.4,
  15, 14.3, 13.5, 13, 12.5, 11.8, 11, 9.8, 8.5, 7.5,
  6.5, 6, 5.8, 5.6, 5.5, 5.5,
  5.5, 5.5, 5.6, 5.8, 6.2, 6.5, 8, 10, 20, 28, 18, 9, 6.5, 6, 5.6, 5.4,
  5.3, 5.2, 5.1, 5.1, 5, 5, 4.9,
];
const E_YTICKS = [4.6, 9.2, 13.9, 18.6, 23.2, 27.8, 32.5, 37.1, 41.7, 46.4, 51, 55.7, 60.3];

const TITLES = ['(a) 777.4 eV', '(b) 779.0 eV', '(c) 779.8 eV', '(d) 781.7 eV', '(e) 784.0 eV'];

const RICH = {
  n: { fontFamily: FONT, fontSize: 25, lineHeight: 24, fill: '#111', verticalAlign: 'middle' },
  s: { fontFamily: FONT, fontSize: 16, lineHeight: 12, fill: '#111', verticalAlign: 'bottom' },
};
const T_MIXED = '{n|φ}{s|mixed}';
const T_SUM = '{n|1/2(φ}{s|2+}{n|+φ}{s|3+}{n|)}';
const T_TWO = '{n|1/2φ}{s|2+}';
const T_TWO_COMMA = '{n|1/2φ}{s|2+,}';
const T_THREE = '{n|1/2φ}{s|3+}';

const COL_BLUE = '#1010ee';
const COL_RED = '#f01818';
const COL_GREEN_EDGE = '#17801a';
const COL_GREEN_FILL = '#dff0d8';

const PANELS = [
  {
    energy: ENERGY, energyMid: ENERGY_MID, xMax: 10, grid: [43, 9, 291, 219], yMax: 65.7, yTicks: A_YTICKS,
    mixed: A_MIXED, mixedMid: A_MIXED_MID, extra: A_MIXED_EXTRA, sum: A_SUM, half2: A_HALF2, half3: A_HALF3, sumColor: '#154a15',
    leg: { tx: 2, ty: 24, cx: 27, cy: 46, my: 50, lx0: 0, lx1: 55, tX: 60, rows: [71, 98, 124], split: false },
  },
  {
    energy: ENERGY, energyMid: ENERGY_MID, xMax: 10, grid: [43, 300, 291, 218], yMax: 65.4, yTicks: B_YTICKS,
    mixed: B_MIXED, mixedMid: B_MIXED_MID, extra: B_MIXED_EXTRA, sum: B_SUM, half2: B_HALF2, half3: B_HALF3, sumColor: '#000000',
    leg: { tx: 2, ty: 23, cx: 29, cy: 42, my: 48, lx0: 0, lx1: 55, tX: 60, rows: [69, 94, 119], split: false },
  },
  {
    energy: ENERGY, energyMid: ENERGY_MID, xMax: 10, grid: [43, 591, 291, 218], yMax: 65.4, yTicks: C_YTICKS,
    mixed: C_MIXED, mixedMid: C_MIXED_MID, extra: C_MIXED_EXTRA, sum: C_SUM, half2: C_HALF2, half3: C_HALF3, sumColor: '#000000',
    leg: { tx: 2, ty: 22, cx: 29, cy: 42, my: 48, lx0: 0, lx1: 55, tX: 60, rows: [69, 95, 121], split: false },
  },
  {
    energy: ENERGY, energyMid: ENERGY_MID, xMax: 10, grid: [388, 10, 292, 218], yMax: 65.4, yTicks: D_YTICKS,
    mixed: D_MIXED, mixedMid: D_MIXED_MID, extra: D_MIXED_EXTRA, sum: D_SUM, half2: D_HALF2, half3: D_HALF3, sumColor: '#000000',
    leg: { tx: 5, ty: 22, cx: 29, cy: 42, my: 50, lx0: 5, lx1: 52, tX: 59, rows: [67, 86, 107], split: false },
  },
  {
    energy: ENERGY_E, energyMid: ENERGY_E_MID, xMax: 11, grid: [389, 300, 291, 218], yMax: 65.4, yTicks: E_YTICKS,
    mixed: E_MIXED, mixedMid: E_MIXED_MID, extra: E_MIXED_EXTRA, sum: E_SUM, half2: E_HALF2, half3: E_HALF3, sumColor: '#000000',
    leg: { tx: 3, ty: 23, cx: 28, cy: 45, my: 50, lx0: 4, lx1: 54, tX: 61, rows: [70, 96, 96], split: true },
  },
];

function pairs(xs: number[], ys: number[]) {
  return xs.map((x, i) => [x, ys[i]]);
}

function legendGroup(p: any, i: number) {
  const L = p.leg;
  const [gx, gy] = p.grid;
  const txt = (x: number, y: number, text: string) => ({
    type: 'text', x, y, style: { text, rich: RICH, fontFamily: FONT, fontSize: 25, fill: '#111', verticalAlign: 'middle', align: 'left' },
  });
  const children: any[] = [
    { type: 'text', x: L.tx, y: L.ty, style: { text: TITLES[i], fontFamily: FONT, fontSize: 24, fill: '#111', verticalAlign: 'middle', align: 'left' } },
    { type: 'circle', shape: { cx: L.cx, cy: L.cy, r: 3.4 }, style: { fill: COL_GREEN_FILL, stroke: COL_GREEN_EDGE, lineWidth: 1.2 } },
    txt(L.tX, L.my, T_MIXED),
    { type: 'line', shape: { x1: L.lx0, y1: L.rows[0], x2: L.lx1, y2: L.rows[0] }, style: { stroke: p.sumColor, lineWidth: 2.2 } },
    txt(L.tX, L.rows[0] + 2, T_SUM),
    { type: 'line', shape: { x1: L.lx0, y1: L.rows[1], x2: L.lx1, y2: L.rows[1] }, style: { stroke: COL_BLUE, lineWidth: 1 } },
  ];
  if (L.split) {
    children.push(
      txt(L.tX, L.rows[1] + 2, T_TWO_COMMA),
      { type: 'line', shape: { x1: 141, y1: L.rows[2], x2: 191, y2: L.rows[2] }, style: { stroke: COL_RED, lineWidth: 1 } },
      txt(198, L.rows[2] + 2, T_THREE),
    );
  } else {
    children.push(
      txt(L.tX, L.rows[1] + 2, T_TWO),
      { type: 'line', shape: { x1: L.lx0, y1: L.rows[2], x2: L.lx1, y2: L.rows[2] }, style: { stroke: COL_RED, lineWidth: 1 } },
      txt(L.tX, L.rows[2] + 2, T_THREE),
    );
  }
  return { type: 'group', x: gx, y: gy, children, z: 100 };
}

function buildOption() {
  const grid = PANELS.map((p) => ({
    left: p.grid[0], top: p.grid[1], width: p.grid[2], height: p.grid[3],
    show: true, borderColor: '#3a3a3a', borderWidth: 1.5, backgroundColor: 'transparent', containLabel: false,
  }));
  const xAxis: any[] = [];
  const yAxis: any[] = [];
  const series: any[] = [];
  PANELS.forEach((p, g) => {
    xAxis.push({
      type: 'value', gridIndex: g, min: -1, max: p.xMax, inverse: true, position: 'bottom',
      axisLine: { show: false }, splitLine: { show: false },
      axisTick: { show: true, inside: true, length: 9, customValues: X_MAJOR, lineStyle: { color: '#333', width: 1.2 } },
      axisLabel: { show: true, customValues: X_MAJOR, fontFamily: FONT, fontSize: 28, color: '#111', margin: 8 },
      name: 'Energy Loss (eV)', nameLocation: 'middle', nameGap: 36,
      nameTextStyle: { fontFamily: FONT, fontSize: 30, color: '#111', padding: [0, 12, 0, 0] },
    });
    xAxis.push({
      type: 'value', gridIndex: g, min: -1, max: p.xMax, inverse: true, position: 'bottom',
      axisLine: { show: false }, splitLine: { show: false },
      axisTick: { show: true, inside: true, length: 5, customValues: X_MINOR, lineStyle: { color: '#333', width: 1.2 } },
      axisLabel: { show: false },
    });
    yAxis.push({
      type: 'value', gridIndex: g, min: 0, max: p.yMax,
      axisLine: { show: false }, splitLine: { show: false }, axisLabel: { show: false },
      axisTick: { show: true, inside: true, length: 6, customValues: p.yTicks, lineStyle: { color: '#333', width: 1.2 } },
      name: 'Intensity (arb. units)', nameLocation: 'middle', nameRotate: 90, nameGap: 12,
      nameTextStyle: { fontFamily: FONT, fontSize: 30, color: '#111' },
    });
    const base = { xAxisIndex: 2 * g, yAxisIndex: g, silent: true, clip: true, animation: false };
    series.push({ ...base, type: 'line', data: pairs(p.energy, p.sum), showSymbol: false, symbol: 'none', lineStyle: { color: p.sumColor, width: 2 }, z: 2 });
    series.push({ ...base, type: 'line', data: pairs(p.energy, p.half2), showSymbol: false, symbol: 'none', lineStyle: { color: COL_BLUE, width: 1 }, z: 3 });
    series.push({ ...base, type: 'line', data: pairs(p.energy, p.half3), showSymbol: false, symbol: 'none', lineStyle: { color: COL_RED, width: 1 }, z: 4 });
    series.push({
      ...base, type: 'scatter',
      data: [...pairs(p.energy, p.mixed), ...pairs(p.energyMid, p.mixedMid), ...p.extra],
      symbol: 'circle', symbolSize: 7,
      itemStyle: { color: COL_GREEN_FILL, borderColor: COL_GREEN_EDGE, borderWidth: 1.3 }, z: 5,
    });
  });
  return {
    animation: false,
    backgroundColor: '#ffffff',
    textStyle: { fontFamily: FONT },
    grid, xAxis, yAxis, series,
    graphic: PANELS.map((p, i) => legendGroup(p, i)),
  };
}

export default function App() {
  const ref = useRef<HTMLDivElement>(null);
  useEffect(() => {
    if (!ref.current) return;
    const chart = echarts.init(ref.current, null, { renderer: 'svg' });
    chart.setOption(buildOption() as any);
    return () => chart.dispose();
  }, []);
  return (
    <div
      ref={ref}
      style={{ position: 'absolute', left: 0, top: 0, width: 685, height: 876, background: '#fff' }}
    />
  );
}
